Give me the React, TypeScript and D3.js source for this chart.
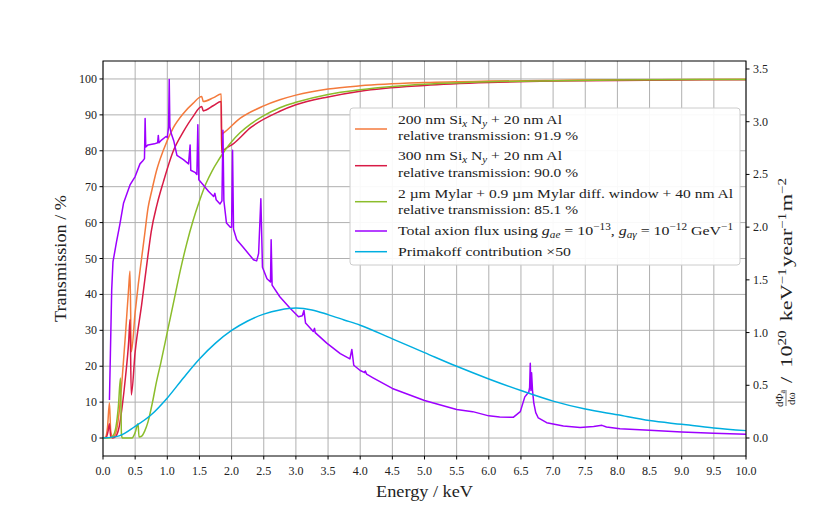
import React from 'react';
import * as d3 from 'd3';

type Pt = [number, number];

// axis ticks
const energyTicks = [0, 0.5, 1, 1.5, 2, 2.5, 3, 3.5, 4, 4.5, 5, 5.5, 6, 6.5, 7, 7.5, 8, 8.5, 9, 9.5, 10];
const transTicks = [0, 10, 20, 30, 40, 50, 60, 70, 80, 90, 100];
const fluxTicks = [0, 0.5, 1, 1.5, 2, 2.5, 3, 3.5];

// window transmissions (energy keV, transmission %)
const sin200: Pt[] = [
    [0, 0], [0.04, 0.3], [0.07, 3], [0.1, 9.8], [0.12, 2], [0.15, 0.3], [0.2, 1.5], [0.25, 7], [0.3, 17],
    [0.35, 29], [0.4, 42], [0.42, 46.5], [0.44, 24], [0.5, 35], [0.55, 43], [0.6, 50], [0.65, 57],
    [0.7, 64], [0.76, 69], [0.83, 74.3], [0.94, 80.2], [1.09, 86.3], [1.25, 90.4], [1.4, 93.2],
    [1.535, 95.1], [1.56, 93.7], [1.72, 94.8], [1.838, 95.8], [1.845, 84.6], [1.87, 84.9], [2.13, 89],
    [2.5, 92.5], [2.75, 94.2], [3, 95.5], [3.5, 97.2], [4, 98.1], [5, 99], [6, 99.4], [7, 99.6], [8, 99.8], [10, 99.9]
];
const sin300: Pt[] = [
    [0, 0], [0.05, 0.2], [0.08, 2], [0.1, 4], [0.12, 0.5], [0.15, 0], [0.2, 0.5], [0.25, 3], [0.3, 9],
    [0.35, 17], [0.4, 27], [0.42, 33], [0.44, 12], [0.5, 24], [0.6, 37], [0.7, 51], [0.75, 57.5],
    [0.84, 65], [0.94, 71.4], [1.09, 79.8], [1.25, 85.3], [1.4, 89.5], [1.535, 92.3], [1.56, 91.1],
    [1.72, 92.6], [1.838, 93.7], [1.845, 79.5], [1.87, 80], [2.03, 82], [2.3, 86.5], [2.75, 91],
    [3, 92.8], [3.5, 95], [4, 96.6], [5, 98.2], [6, 99], [7, 99.4], [8, 99.6], [10, 99.8]
];
const mylar: Pt[] = [
    [0, 0], [0.1, 0], [0.15, 0.5], [0.2, 3], [0.24, 9], [0.272, 16.7], [0.287, 1], [0.3, 0], [0.45, 0],
    [0.5, 1.5], [0.545, 4], [0.56, 0.3], [0.6, 0.5], [0.65, 2], [0.7, 4.5], [0.77, 10], [0.83, 15.5],
    [0.9, 21], [1, 29.5], [1.1, 38], [1.2, 46.5], [1.3, 54], [1.4, 60.5], [1.5, 66], [1.6, 70.8],
    [1.7, 74.5], [1.8, 77.5], [1.9, 80.2], [2, 82.5], [2.13, 85], [2.3, 87.5], [2.5, 89.8], [2.75, 92],
    [3, 93.5], [3.5, 95.7], [4, 97], [4.5, 97.9], [5, 98.5], [6, 99.2], [7, 99.5], [8, 99.7], [10, 99.85]
];

// axion flux (energy keV, 10^20 keV^-1 year^-1 m^-2)
const axionTotal: Pt[] = [
    [0.1, 0.36], [0.115, 0.8], [0.135, 1.4], [0.155, 1.67], [0.21, 1.86], [0.26, 2.02], [0.32, 2.23],
    [0.42, 2.4], [0.5, 2.48], [0.575, 2.6], [0.62, 2.63], [0.645, 2.65], [0.655, 3.03], [0.665, 2.76],
    [0.7, 2.78], [0.8, 2.79], [0.85, 2.8], [0.86, 2.87], [0.87, 2.8], [0.9, 2.82], [0.98, 2.86], [1.0, 2.85],
    [1.02, 2.95], [1.03, 3.4], [1.04, 2.95], [1.06, 2.89], [1.1, 2.82], [1.15, 2.68], [1.25, 2.64],
    [1.33, 2.6], [1.355, 2.78], [1.365, 2.54], [1.43, 2.52], [1.46, 2.5], [1.475, 2.97], [1.49, 2.45],
    [1.56, 2.4], [1.64, 2.34], [1.72, 2.29], [1.74, 2.32], [1.76, 2.26], [1.82, 2.22], [1.85, 2.25],
    [1.865, 2.92], [1.88, 2.25], [1.92, 2.04], [1.98, 2.0], [2.0, 2.0], [2.015, 2.73], [2.03, 1.98],
    [2.08, 1.88], [2.18, 1.81], [2.34, 1.69], [2.39, 1.68], [2.42, 1.75], [2.455, 2.27], [2.48, 1.62],
    [2.55, 1.51], [2.605, 1.48], [2.615, 1.88], [2.63, 1.45], [2.75, 1.34], [2.91, 1.23], [3.04, 1.15],
    [3.1, 1.16], [3.125, 1.21], [3.15, 1.09], [3.27, 1.01], [3.29, 1.04], [3.3, 1.0], [3.48, 0.9],
    [3.69, 0.8], [3.84, 0.75], [3.87, 0.84], [3.9, 0.69], [4.0, 0.64], [4.07, 0.62], [4.08, 0.635],
    [4.1, 0.605], [4.2, 0.57], [4.5, 0.47], [5.0, 0.355], [5.5, 0.27], [5.75, 0.25], [6.0, 0.21],
    [6.17, 0.2], [6.38, 0.196], [6.49, 0.25], [6.56, 0.39], [6.6, 0.42], [6.62, 0.43], [6.635, 0.48],
    [6.645, 0.71], [6.655, 0.45], [6.665, 0.62], [6.68, 0.45], [6.7, 0.33], [6.73, 0.24], [6.77, 0.19],
    [6.9, 0.145], [7.16, 0.114], [7.42, 0.1], [7.63, 0.11], [7.76, 0.12], [7.83, 0.105], [8.04, 0.088],
    [8.5, 0.073], [9, 0.057], [9.5, 0.045], [10, 0.035]
];
const primakoff: Pt[] = [
    [0, 0], [0.25, 0.02], [0.5, 0.11], [0.75, 0.22], [1, 0.38], [1.25, 0.57], [1.5, 0.75], [1.75, 0.9],
    [2, 1.02], [2.25, 1.11], [2.5, 1.175], [2.75, 1.215], [3, 1.232], [3.25, 1.215], [3.5, 1.17], [3.75, 1.12],
    [4, 1.07], [4.5, 0.94], [5, 0.81], [5.5, 0.68], [6, 0.56], [6.5, 0.45], [7, 0.35], [7.5, 0.275],
    [8, 0.22], [8.5, 0.165], [9, 0.13], [9.5, 0.095], [10, 0.07]
];

const FONT = '"Liberation Serif", "Times New Roman", serif';
const C_ORANGE = '#f47a3c';
const C_RED = '#d81b46';
const C_GREEN = '#8bbd2b';
const C_PURPLE = '#9d00ff';
const C_CYAN = '#00aee0';

const L = 103, R = 746, T = 61, B = 456;

export default function App() {
    const x = d3.scaleLinear().domain([0, 10]).range([L, R]);
    const yL = d3.scaleLinear().domain([-5, 105]).range([B, T]);
    const yR = d3.scaleLinear().domain([-0.1707, 3.5758]).range([B, T]);

    const lineL = d3.line<Pt>().x((d) => x(d[0])).y((d) => yL(d[1])).curve(d3.curveMonotoneX);
    const lineR = d3.line<Pt>().x((d) => x(d[0])).y((d) => yR(d[1]));
    const lineRSmooth = d3.line<Pt>().x((d) => x(d[0])).y((d) => yR(d[1])).curve(d3.curveMonotoneX);

    const sub = { baselineShift: '-3', fontSize: 9.5 } as const;
    const sup = { baselineShift: '5', fontSize: 9.5 } as const;
    const supL = { baselineShift: '6', fontSize: 11.5 } as const;
    const stretch = { lengthAdjust: 'spacingAndGlyphs' } as const;

    const legendX = 350, legendY = 108, legendW = 390, legendH = 157;
    const hx1 = 355, hx2 = 387, tx = 398;

    return (
        <div style={{ position: 'absolute', left: 0, top: 0 }}>
            <style>{`body { margin: 0; }`}</style>
            <svg width={830} height={513} style={{ display: 'block', background: 'white', fontFamily: FONT }}>
                {/* grid */}
                <g stroke="#b0b0b0" strokeWidth={1}>
                    {energyTicks.map((t) => (
                        <line key={'gx' + t} x1={x(t)} x2={x(t)} y1={T} y2={B} />
                    ))}
                    {transTicks.map((t) => (
                        <line key={'gy' + t} x1={L} x2={R} y1={yL(t)} y2={yL(t)} />
                    ))}
                </g>

                {/* curves */}
                <g fill="none" strokeWidth={1.5} strokeLinejoin="round">
                    <path d={lineL(sin200)!} stroke={C_ORANGE} />
                    <path d={lineL(sin300)!} stroke={C_RED} />
                    <path d={lineL(mylar)!} stroke={C_GREEN} />
                    <path d={lineR(axionTotal)!} stroke={C_PURPLE} />
                    <path d={lineRSmooth(primakoff)!} stroke={C_CYAN} />
                </g>

                {/* frame */}
                <rect x={L} y={T} width={R - L} height={B - T} fill="none" stroke="black" strokeWidth={1} />

                {/* bottom axis */}
                <g fontSize={12} textAnchor="middle" fill="#222">
                    {energyTicks.map((t) => (
                        <g key={'bx' + t}>
                            <line x1={x(t)} x2={x(t)} y1={B} y2={B + 3.5} stroke="black" />
                            <text x={x(t)} y={B + 19}>{t.toFixed(1)}</text>
                        </g>
                    ))}
                </g>
                {/* left axis */}
                <g fontSize={12} textAnchor="end" fill="#222">
                    {transTicks.map((t) => (
                        <g key={'ly' + t}>
                            <line x1={L - 3.5} x2={L} y1={yL(t)} y2={yL(t)} stroke="black" />
                            <text x={L - 6} y={yL(t) + 4}>{t}</text>
                        </g>
                    ))}
                </g>
                {/* right axis */}
                <g fontSize={12} textAnchor="start" fill="#222">
                    {fluxTicks.map((t) => (
                        <g key={'ry' + t}>
                            <line x1={R} x2={R + 3.5} y1={yR(t)} y2={yR(t)} stroke="black" />
                            <text x={R + 7} y={yR(t) + 4}>{t.toFixed(1)}</text>
                        </g>
                    ))}
                </g>

                {/* axis labels */}
                <text x={376} y={497} fontSize={16} fill="#222" textLength={97} {...stretch}>Energy / keV</text>
                <text
                    transform={`translate(66,322) rotate(-90)`}
                    fontSize={16}
                    fill="#222"
                    textLength={127}
                    {...stretch}
                >
                    Transmission / %
                </text>
                <g transform="translate(795,407) rotate(-90)" fill="#222" fontSize={17}>
                    <text x={8.5} y={-12.5} fontSize={11} textAnchor="middle">
                        dΦ<tspan baselineShift="-2" fontSize={8}>a</tspan>
                    </text>
                    <line x1={1} x2={17} y1={-9} y2={-9} stroke="#222" strokeWidth={0.6} />
                    <text x={8.5} y={-0.5} fontSize={11} textAnchor="middle">dω</text>
                    <text x={24} y={-3} textLength={205} {...stretch}>
                        /<tspan dx={7}>10</tspan><tspan {...supL}>20</tspan><tspan dx={7}>keV</tspan><tspan {...supL}>−1</tspan><tspan dx={1}>year</tspan><tspan {...supL}>−1</tspan><tspan dx={1}>m</tspan><tspan {...supL}>−2</tspan>
                    </text>
                </g>

                {/* legend */}
                <rect x={legendX} y={legendY} width={legendW} height={legendH} rx={3} fill="white" fillOpacity={0.92} stroke="#cccccc" />
                <g strokeWidth={1.5}>
                    <line x1={hx1} x2={hx2} y1={129} y2={129} stroke={C_ORANGE} />
                    <line x1={hx1} x2={hx2} y1={165.7} y2={165.7} stroke={C_RED} />
                    <line x1={hx1} x2={hx2} y1={201.7} y2={201.7} stroke={C_GREEN} />
                    <line x1={hx1} x2={hx2} y1={231} y2={231} stroke={C_PURPLE} />
                    <line x1={hx1} x2={hx2} y1={251.7} y2={251.7} stroke={C_CYAN} />
                </g>
                <g fontSize={13.5} fill="#222">
                    <text x={tx} y={123.5} textLength={164} {...stretch}>
                        200 nm Si<tspan {...sub} fontStyle="italic">x</tspan><tspan> N</tspan><tspan {...sub} fontStyle="italic">y</tspan><tspan> + 20 nm Al</tspan>
                    </text>
                    <text x={tx} y={140} textLength={180} {...stretch}>relative transmission: 91.9 %</text>
                    <text x={tx} y={160} textLength={164} {...stretch}>
                        300 nm Si<tspan {...sub} fontStyle="italic">x</tspan><tspan> N</tspan><tspan {...sub} fontStyle="italic">y</tspan><tspan> + 20 nm Al</tspan>
                    </text>
                    <text x={tx} y={176.7} textLength={180} {...stretch}>relative transmission: 90.0 %</text>
                    <text x={tx} y={198.3} textLength={335} {...stretch}>2 µm Mylar + 0.9 µm Mylar diff. window + 40 nm Al</text>
                    <text x={tx} y={213.5} textLength={180} {...stretch}>relative transmission: 85.1 %</text>
                    <text x={tx} y={235} textLength={335} {...stretch}>
                        Total axion flux using <tspan fontStyle="italic">g</tspan><tspan {...sub} fontStyle="italic">ae</tspan><tspan> = 10</tspan><tspan {...sup}>−13</tspan><tspan>, </tspan><tspan fontStyle="italic">g</tspan><tspan {...sub} fontStyle="italic">aγ</tspan><tspan> = 10</tspan><tspan {...sup}>−12</tspan><tspan> GeV</tspan><tspan {...sup}>−1</tspan>
                    </text>
                    <text x={tx} y={255.7} textLength={173} {...stretch}>Primakoff contribution ×50</text>
                </g>
            </svg>
        </div>
    );
}
